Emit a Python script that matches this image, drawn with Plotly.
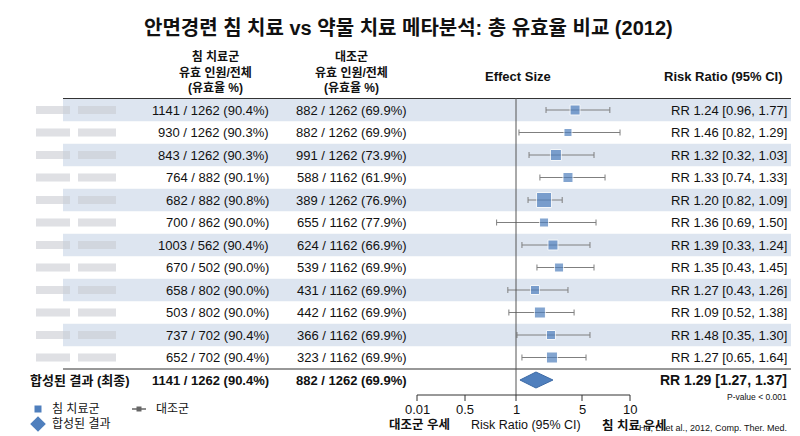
import numpy as np
import plotly.graph_objects as go

# ---- data ----
ACU = ["1141 / 1262 (90.4%)", "930 / 1262 (90.3%)", "843 / 1262 (90.3%)", "764 / 882 (90.1%)",
       "682 / 882 (90.8%)", "700 / 862 (90.0%)", "1003 / 562 (90.4%)", "670 / 502 (90.0%)",
       "658 / 802 (90.0%)", "503 / 802 (90.0%)", "737 / 702 (90.4%)", "652 / 702 (90.4%)"]
CTRL = ["882 / 1262 (69.9%)", "882 / 1262 (69.9%)", "991 / 1262 (73.9%)", "588 / 1162 (61.9%)",
        "389 / 1262 (76.9%)", "655 / 1162 (77.9%)", "624 / 1162 (66.9%)", "539 / 1162 (69.9%)",
        "431 / 1162 (69.9%)", "442 / 1162 (69.9%)", "366 / 1162 (69.9%)", "323 / 1162 (69.9%)"]
RR_TEXT = ["RR 1.24 [0.96, 1.77]", "RR 1.46 [0.82, 1.29]", "RR 1.32 [0.32, 1.03]", "RR 1.33 [0.74, 1.33]",
           "RR 1.20 [0.82, 1.09]", "RR 1.36 [0.69, 1.50]", "RR 1.39 [0.33, 1.24]", "RR 1.35 [0.43, 1.45]",
           "RR 1.27 [0.43, 1.26]", "RR 1.09 [0.52, 1.38]", "RR 1.48 [0.35, 1.30]", "RR 1.27 [0.65, 1.64]"]
# drawn positions on the (non-uniform) effect axis
EST = [4.58, 4.15, 3.42, 4.15, 2.7, 2.7, 3.24, 3.61, 2.15, 2.45, 3.12, 3.18]
LO = [2.82, 1.18, 1.79, 2.45, 1.73, 0.81, 1.36, 2.27, 0.92, 0.93, 1.06, 1.36]
HI = [7.9, 8.96, 6.25, 7.4, 3.8, 6.46, 5.83, 6.25, 4.15, 4.52, 5.83, 5.42]
SIZES = [10, 8, 11, 10, 15, 9, 10, 9, 9, 11, 9, 11]
POOLED = (2.21, 1.24, 3.24)
TICK_VALS = [0.01, 0.5, 1, 5, 10]
TICK_TEXT = ["0.01", "0.5", "1", "5", "10"]

# axis is drawn in pixel space; ticks are unevenly spaced in the original
TICK_PX = [409, 457, 508, 574, 622]


def to_px(v):
    return float(np.interp(v, TICK_VALS, TICK_PX))


ROW_Y0, ROW_H = 102, 22.5
FONT = "Liberation Sans, Arial, Noto Sans CJK KR"
BLUE = "#4f7fbd"
BAND = "#dde5f0"

fig = go.Figure()
shapes, ann = [], []

for i in range(len(ACU)):
    y = ROW_Y0 + i * ROW_H
    if i % 2 == 0:
        shapes.append(dict(type="rect", x0=55, x1=783, y0=y - ROW_H / 2, y1=y + ROW_H / 2,
                           fillcolor=BAND, line_width=0, layer="below"))
    # blurred study label placeholder
    shapes.append(dict(type="rect", x0=28, x1=62, y0=y - 4, y1=y + 4, fillcolor="#c9ccd2",
                       opacity=0.6, line_width=0, layer="below"))
    shapes.append(dict(type="rect", x0=70, x1=108, y0=y - 4, y1=y + 4, fillcolor="#c9ccd2",
                       opacity=0.6, line_width=0, layer="below"))
    ann.append(dict(x=263, y=y, text=ACU[i], xanchor="right", showarrow=False, font=dict(size=13)))
    ann.append(dict(x=401, y=y, text=CTRL[i], xanchor="right", showarrow=False, font=dict(size=13)))
    ann.append(dict(x=781, y=y, text=RR_TEXT[i], xanchor="right", showarrow=False, font=dict(size=13)))

ys = [ROW_Y0 + i * ROW_H for i in range(len(ACU))]
fig.add_trace(go.Scatter(
    x=[to_px(v) for v in EST], y=ys, mode="markers",
    marker=dict(symbol="square", size=SIZES, color=BLUE),
    error_x=dict(type="data", symmetric=False,
                 array=[to_px(h) - to_px(e) for h, e in zip(HI, EST)],
                 arrayminus=[to_px(e) - to_px(l) for l, e in zip(LO, EST)],
                 color="#7f7f7f", thickness=1, width=3),
    showlegend=False, hoverinfo="skip"))

# pooled diamond
ys_sum = 372
pe, pl, ph = POOLED
fig.add_trace(go.Scatter(
    x=[to_px(pl), to_px(pe), to_px(ph), to_px(pe), to_px(pl)],
    y=[ys_sum, ys_sum - 8, ys_sum, ys_sum + 8, ys_sum],
    fill="toself", fillcolor=BLUE, line=dict(color="#3c6aa6", width=1),
    mode="lines", showlegend=False, hoverinfo="skip"))

# lines
shapes += [
    dict(type="line", x0=55, x1=783, y0=90.5, y1=90.5, line=dict(color="#333", width=1.2)),
    dict(type="line", x0=55, x1=783, y0=361, y1=361, line=dict(color="#333", width=1.2)),
    dict(type="line", x0=to_px(1), x1=to_px(1), y0=90, y1=387, line=dict(color="#555", width=1)),
    dict(type="line", x0=TICK_PX[0], x1=TICK_PX[-1], y0=387, y1=387, line=dict(color="#333", width=1)),
]
for v, t in zip(TICK_VALS, TICK_TEXT):
    shapes.append(dict(type="line", x0=to_px(v), x1=to_px(v), y0=387, y1=393, line=dict(color="#333", width=1)))
    ann.append(dict(x=to_px(v), y=401, text=t, showarrow=False, font=dict(size=13)))

# headers
ann += [
    dict(x=400, y=20, text="<b>안면경련 침 치료 vs 약물 치료 메타분석: 총 유효율 비교 (2012)</b>",
         showarrow=False, font=dict(size=20)),
    dict(x=207, y=64, text="<b>침 치료군<br>유효 인원/전체<br>(유효율 %)</b>", showarrow=False,
         font=dict(size=12)),
    dict(x=343, y=64, text="<b>대조군<br>유효 인원/전체<br>(유효율 %)</b>", showarrow=False,
         font=dict(size=12)),
    dict(x=510, y=68, text="<b>Effect Size</b>", showarrow=False, font=dict(size=13)),
    dict(x=715, y=68, text="<b>Risk Ratio (95% CI)</b>", showarrow=False, font=dict(size=13)),
    dict(x=20, y=ys_sum, text="<b>합성된 결과 (최종)</b>", xanchor="left", showarrow=False, font=dict(size=13)),
    dict(x=263, y=ys_sum, text="<b>1141 / 1262 (90.4%)</b>", xanchor="right", showarrow=False, font=dict(size=13)),
    dict(x=401, y=ys_sum, text="<b>882 / 1262 (69.9%)</b>", xanchor="right", showarrow=False, font=dict(size=13)),
    dict(x=781, y=ys_sum, text="<b>RR 1.29 [1.27, 1.37]</b>", xanchor="right", showarrow=False, font=dict(size=14)),
    dict(x=781, y=389, text="P-value < 0.001", xanchor="right", showarrow=False, font=dict(size=8.5)),
    dict(x=444, y=417, text="<b>대조군 우세</b>", xanchor="right", showarrow=False, font=dict(size=12.5)),
    dict(x=518, y=417, text="Risk Ratio (95% CI)", showarrow=False, font=dict(size=12.5)),
    dict(x=592, y=417, text="<b>침 치료 우세</b>", xanchor="left", showarrow=False, font=dict(size=12.5)),
    dict(x=781, y=420, text="He, L. et al., 2012, Comp. Ther. Med.", xanchor="right", showarrow=False,
         font=dict(size=9)),
    dict(x=42, y=401, text="침 치료군", xanchor="left", showarrow=False, font=dict(size=12)),
    dict(x=146, y=401, text="대조군", xanchor="left", showarrow=False, font=dict(size=12)),
    dict(x=42, y=416, text="합성된 결과", xanchor="left", showarrow=False, font=dict(size=12)),
]

# legend symbols
fig.add_trace(go.Scatter(x=[30], y=[401], mode="markers", marker=dict(symbol="square", size=7, color=BLUE),
                         showlegend=False, hoverinfo="skip"))
fig.add_trace(go.Scatter(x=[124, 138], y=[401, 401], mode="lines", line=dict(color="#666", width=1.5),
                         showlegend=False, hoverinfo="skip"))
fig.add_trace(go.Scatter(x=[131], y=[401], mode="markers", marker=dict(symbol="square", size=5, color="#666"),
                         showlegend=False, hoverinfo="skip"))
fig.add_trace(go.Scatter(x=[30], y=[416], mode="markers", marker=dict(symbol="diamond", size=12, color=BLUE),
                         showlegend=False, hoverinfo="skip"))

fig.update_layout(
    width=800, height=436, margin=dict(l=0, r=0, t=0, b=0),
    paper_bgcolor="white", plot_bgcolor="white",
    font=dict(family=FONT, color="#111"),
    xaxis=dict(range=[0, 800], visible=False, fixedrange=True),
    yaxis=dict(range=[436, 0], visible=False, fixedrange=True),
    shapes=shapes, annotations=ann,
)

fig.write_html("out.html")
